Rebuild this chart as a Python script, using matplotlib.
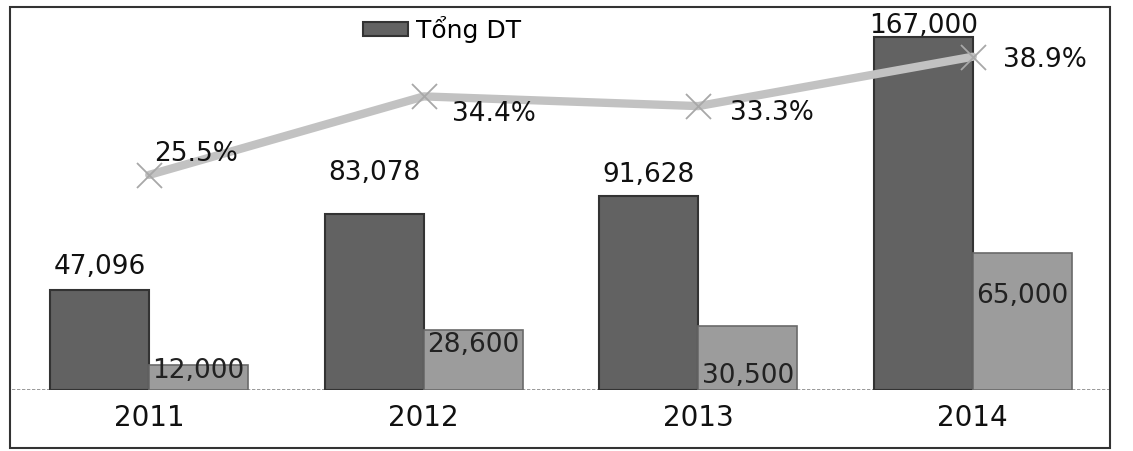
import matplotlib.pyplot as plt
from matplotlib.patches import Rectangle

plt.rcParams['font.family'] = ['DejaVu Sans']

years = ["2011", "2012", "2013", "2014"]
tong_dt = [47096, 83078, 91628, 167000]
phan_con = [12000, 28600, 30500, 65000]
ty_le = [25.5, 34.4, 33.3, 38.9]

# label offsets (pixels) - chỉnh tay cho giống bản gốc
dark_dy = [10, 28, 8, -2]
light_dy = [-6, -15, -50, -43]
pct_off = [(5, 21), (28, -18), (32, -7), (30, -3)]

fig = plt.figure(figsize=(11.33, 4.51), dpi=100)
ax = fig.add_axes([12 / 1133, 61 / 451, 1098 / 1133, 380 / 451])
ax2 = ax.twinx()

x = list(range(len(years)))
w = 0.36
ax.bar([i - w / 2 for i in x], tong_dt, width=w, color="#626262",
       edgecolor="#333333", linewidth=1.5, label="Tổng DT", zorder=2)
ax.bar([i + w / 2 for i in x], phan_con, width=w, color="#9c9c9c",
       edgecolor="#6a6a6a", linewidth=1.2, zorder=2)

for i, v in enumerate(tong_dt):
    ax.annotate(f"{v:,}", (i - w / 2, v), xytext=(0, dark_dy[i]), textcoords="offset pixels",
                ha="center", va="bottom", fontsize=19, color="#111111")
for i, v in enumerate(phan_con):
    ax.annotate(f"{v:,}", (i + w / 2, v), xytext=(0, light_dy[i]), textcoords="offset pixels",
                ha="center", va="center", fontsize=19, color="#222222", zorder=5)

ax.set_xlim(-0.5, 3.5)
ax.set_ylim(0, 179800)
ax.set_xticks(x)
ax.set_xticklabels(years, fontsize=20, color="#111111")
ax.tick_params(axis="x", length=0, pad=10)
ax.set_yticks([])
ax.axhline(0, color="#888888", linewidth=1.2, linestyle=(0, (2, 1)), zorder=1)
for s in ax.spines.values():
    s.set_visible(False)

ax2.plot(x, ty_le, color="#c2c2c2", linewidth=6, solid_capstyle="round", zorder=3)
ax2.plot(x, ty_le, linestyle="none", marker="x", markersize=18, markeredgewidth=1.3,
         color="#a8a8a8", zorder=4)
for i, v in enumerate(ty_le):
    ax2.annotate(f"{v}%", (i, v), xytext=pct_off[i], textcoords="offset pixels",
                 ha="left", va="center", fontsize=19, color="#111111")
ax2.set_ylim(1.1, 44.2)
ax2.set_yticks([])
for s in ax2.spines.values():
    s.set_visible(False)

ax.legend(loc="upper left", bbox_to_anchor=(0.3197, 0.985), frameon=False, fontsize=18,
          borderaxespad=0, borderpad=0, handlelength=1.8, handleheight=0.5,
          handletextpad=0.3)

fig.patches.append(Rectangle((10 / 1133, 3 / 451), 1100 / 1133, 441 / 451,
                             transform=fig.transFigure, fill=False,
                             edgecolor="#333333", linewidth=1.5))

fig.savefig("out.png", dpi=100)
